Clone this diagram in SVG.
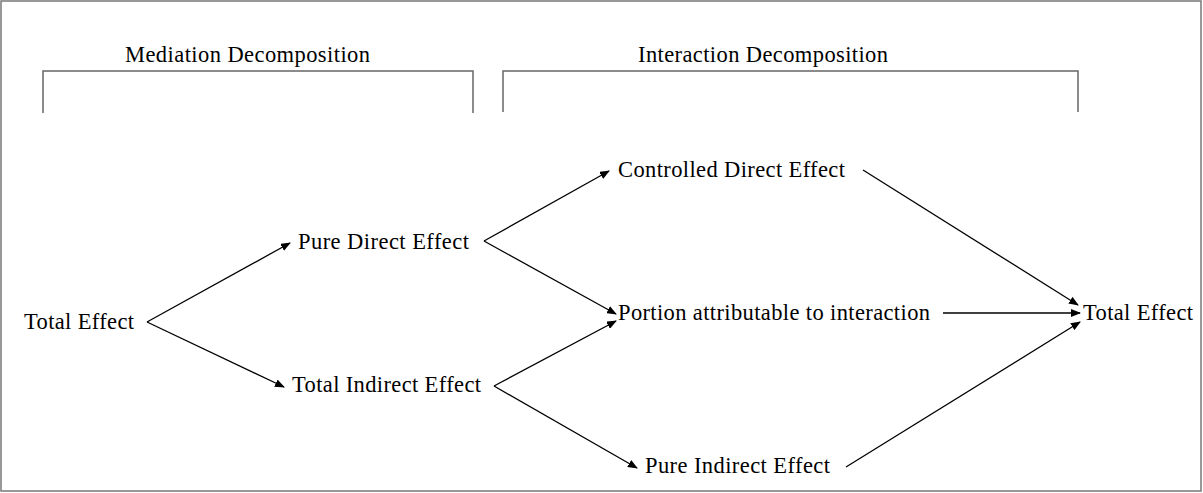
<svg xmlns="http://www.w3.org/2000/svg" width="1203" height="493" viewBox="0 0 1203 493">
<style>
text{font-family:"Liberation Serif","Times New Roman",serif;font-size:22.5px;fill:#000}
.br{fill:none;stroke:#666;stroke-width:1.5}
.e{stroke:#000;stroke-width:1.3;fill:none;marker-end:url(#ah)}
</style>
<defs>
<marker id="ah" markerWidth="10" markerHeight="8" refX="9" refY="4" orient="auto" markerUnits="userSpaceOnUse">
<path d="M0,0 L10,4 L0,8 Z" fill="#000"/>
</marker>
</defs>
<rect x="1" y="1" width="1200" height="490" fill="#fff" stroke="#777" stroke-width="1.5"/>
<g id="mediation">
<path class="br" d="M43,113 V71 H473 V113"/>
<text x="125" y="62" textLength="245">Mediation Decomposition</text>
</g>
<g id="interaction">
<path class="br" d="M503,112 V71 H1078 V112"/>
<text x="638" y="62" textLength="250">Interaction Decomposition</text>
</g>
<g id="connectors">
<path class="e" d="M147,322 L290,243"/>
<path class="e" d="M147,322 L284,387"/>
<path class="e" d="M484,241 L609,171"/>
<path class="e" d="M484,241 L616,314"/>
<path class="e" d="M494,386 L616,321"/>
<path class="e" d="M494,386 L637,468"/>
<path class="e" d="M863,170 L1078,305"/>
<path class="e" d="M943,313 L1080,313"/>
<path class="e" d="M846,467 L1080,322"/>
</g>
<g id="te1"><text x="24" y="329" textLength="110">Total Effect</text></g>
<g id="pde"><text x="298" y="249" textLength="171">Pure Direct Effect</text></g>
<g id="tie"><text x="292" y="392" textLength="189">Total Indirect Effect</text></g>
<g id="cde"><text x="618" y="177" textLength="227">Controlled Direct Effect</text></g>
<g id="pai"><text x="618" y="320" textLength="312">Portion attributable to interaction</text></g>
<g id="pie"><text x="645" y="473" textLength="185">Pure Indirect Effect</text></g>
<g id="te2"><text x="1083" y="320" textLength="110">Total Effect</text></g>
</svg>
